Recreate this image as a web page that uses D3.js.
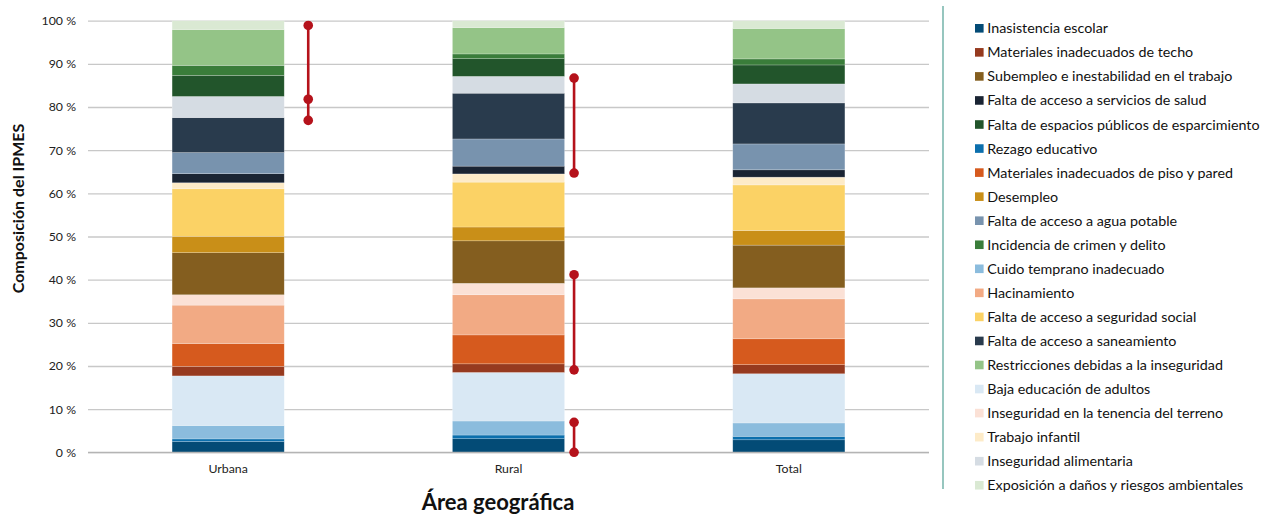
<!DOCTYPE html>
<html lang="es">
<head>
<meta charset="utf-8">
<script src="https://cdn.jsdelivr.net/npm/d3@7"></script>
<style>
  html, body { margin: 0; padding: 0; background: #fff; }
  svg { display: block; font-family: Lato, "Open Sans", sans-serif; }
</style>
</head>
<body>
<svg id="chart" width="1264" height="515"></svg>
<script>
// Geographic areas shown as stacked bars
const categories = ["Urbana", "Rural", "Total"];

// Indicators, stacked from the bottom of each bar upwards
const indicators = [
  "Inasistencia escolar",
  "Rezago educativo",
  "Cuido temprano inadecuado",
  "Baja educación de adultos",
  "Materiales inadecuados de techo",
  "Materiales inadecuados de piso y pared",
  "Hacinamiento",
  "Inseguridad en la tenencia del terreno",
  "Subempleo e inestabilidad en el trabajo",
  "Desempleo",
  "Falta de acceso a seguridad social",
  "Trabajo infantil",
  "Falta de acceso a servicios de salud",
  "Falta de acceso a agua potable",
  "Falta de acceso a saneamiento",
  "Inseguridad alimentaria",
  "Falta de espacios públicos de esparcimiento",
  "Incidencia de crimen y delito",
  "Restricciones debidas a la inseguridad",
  "Exposición a daños y riesgos ambientales"
];

// Share of each indicator in the IPMES (%), same order as indicators
const urbanaValues = [2.5, 0.6, 3.1, 11.5, 2.2, 5.3, 8.9, 2.4, 9.75, 3.8, 11.0, 1.4, 2.1, 4.9, 8.1, 4.9, 4.9, 2.3, 8.3, 2.05];
const ruralValues  = [3.15, 0.85, 3.25, 11.25, 2.0, 6.7, 9.3, 2.65, 9.85, 3.2, 10.4, 1.9, 1.8, 6.3, 10.6, 3.9, 4.1, 1.1, 6.1, 1.6];
const totalValues  = [2.9, 0.8, 3.1, 11.4, 2.1, 6.0, 9.25, 2.55, 9.9, 3.4, 10.55, 1.8, 1.7, 6.0, 9.5, 4.4, 4.4, 1.4, 7.05, 1.8];

// Fill colour of each indicator, same order as indicators
const indicatorColors = [
  "#034b76", "#0b6fad", "#8bbcdd", "#d9e8f4",
  "#963a1f", "#d65a1e", "#f2aa84", "#fbe1d6",
  "#845e1f", "#c98f18", "#fbd265", "#fdebc8",
  "#1a2433", "#7893ae", "#293b4d", "#d5dce3",
  "#22552b", "#3a7d3a", "#94c487", "#dae9d3"
];

// Legend listing order
const legendOrder = [
  "Inasistencia escolar",
  "Materiales inadecuados de techo",
  "Subempleo e inestabilidad en el trabajo",
  "Falta de acceso a servicios de salud",
  "Falta de espacios públicos de esparcimiento",
  "Rezago educativo",
  "Materiales inadecuados de piso y pared",
  "Desempleo",
  "Falta de acceso a agua potable",
  "Incidencia de crimen y delito",
  "Cuido temprano inadecuado",
  "Hacinamiento",
  "Falta de acceso a seguridad social",
  "Falta de acceso a saneamiento",
  "Restricciones debidas a la inseguridad",
  "Baja educación de adultos",
  "Inseguridad en la tenencia del terreno",
  "Trabajo infantil",
  "Inseguridad alimentaria",
  "Exposición a daños y riesgos ambientales"
];

// Y axis ticks (%)
const yTicks = [0, 10, 20, 30, 40, 50, 60, 70, 80, 90, 100];

// Highlighted ranges (% values) beside the bars
const rangeMarkers = [
  { area: "Urbana", points: [98.9, 81.8, 76.9] },
  { area: "Rural", points: [86.7, 64.7] },
  { area: "Rural", points: [41.15, 19.1] },
  { area: "Rural", points: [6.95, 0] }
];

const valuesByArea = { Urbana: urbanaValues, Rural: ruralValues, Total: totalValues };
const table = categories.map(c => {
  const row = { area: c };
  indicators.forEach((k, i) => { row[k] = valuesByArea[c][i]; });
  return row;
});
const colorOf = d3.scaleOrdinal().domain(indicators).range(indicatorColors);

const svg = d3.select("#chart");
const plot = { left: 88, right: 929, top: 20.7, bottom: 452.3 };

const x = d3.scaleBand()
  .domain(categories)
  .range([plot.left, plot.right])
  .paddingInner(0.6)
  .paddingOuter(0.3);

const y = d3.scaleLinear().domain([0, 100]).range([plot.bottom, plot.top]);

// Gridlines and tick labels
const yAxis = d3.axisLeft(y)
  .tickValues(yTicks)
  .tickSize(-(plot.right - plot.left))
  .tickPadding(12)
  .tickFormat(d => d + " %");
const gy = svg.append("g")
  .attr("transform", `translate(${plot.left},0)`)
  .call(yAxis);
gy.select(".domain").remove();
gy.selectAll(".tick line").attr("stroke", "#c8c8c8").attr("stroke-width", 1.3);
gy.selectAll(".tick text")
  .attr("fill", "#222")
  .style("font-size", "12.3px")
  .style("font-family", "Lato, sans-serif");

// Stacked bars
const stacked = d3.stack().keys(indicators)(table);
svg.append("g")
  .selectAll("g")
  .data(stacked)
  .join("g")
  .attr("fill", d => colorOf(d.key))
  .selectAll("rect")
  .data(d => d)
  .join("rect")
  .attr("x", d => x(d.data.area))
  .attr("width", x.bandwidth())
  .attr("y", d => y(d[1]))
  .attr("height", d => y(d[0]) - y(d[1]))
  .attr("stroke", "#ffffff")
  .attr("stroke-opacity", 0.35)
  .attr("stroke-width", 0.6);

// Baseline
svg.append("line")
  .attr("x1", plot.left).attr("x2", plot.right)
  .attr("y1", y(0)).attr("y2", y(0))
  .attr("stroke", "#b4b4b4").attr("stroke-width", 1.3);

// Category labels
const xAxis = d3.axisBottom(x).tickSize(0).tickPadding(12);
const gx = svg.append("g")
  .attr("transform", `translate(0,${y(0)})`)
  .call(xAxis);
gx.select(".domain").remove();
gx.selectAll(".tick text")
  .attr("fill", "#222")
  .style("font-size", "12.3px")
  .style("font-family", "Lato, sans-serif");

// Range markers beside the bars
const markerGap = { Urbana: 24, Rural: 9.5 };
const markerColor = "#b5121b";
const mg = svg.append("g");
rangeMarkers.forEach(m => {
  const mx = x(m.area) + x.bandwidth() + markerGap[m.area];
  const ext = d3.extent(m.points);
  mg.append("line")
    .attr("x1", mx).attr("x2", mx)
    .attr("y1", y(ext[1])).attr("y2", y(ext[0]))
    .attr("stroke", markerColor).attr("stroke-width", 2.6);
  mg.selectAll(null)
    .data(m.points)
    .join("circle")
    .attr("cx", mx)
    .attr("cy", d => y(d))
    .attr("r", 4.8)
    .attr("fill", markerColor);
});

// Axis titles
svg.append("text")
  .attr("transform", `translate(24,${(plot.top + plot.bottom) / 2 - 28}) rotate(-90)`)
  .attr("text-anchor", "middle")
  .style("font-size", "16px")
  .style("font-weight", "700")
  .attr("fill", "#111")
  .text("Composición del IPMES");

svg.append("text")
  .attr("x", 498)
  .attr("y", 510)
  .attr("text-anchor", "middle")
  .style("font-size", "22px")
  .style("font-weight", "700")
  .attr("fill", "#111")
  .text("Área geográfica");

// Divider between plot and legend
svg.append("line")
  .attr("x1", 943).attr("x2", 943)
  .attr("y1", 6).attr("y2", 489)
  .attr("stroke", "#5fa89c").attr("stroke-width", 1.3);

// Legend
const legend = svg.append("g").attr("transform", "translate(975,28.3)");
const item = legend.selectAll("g")
  .data(legendOrder)
  .join("g")
  .attr("transform", (d, i) => `translate(0,${i * 24.05})`);
item.append("rect")
  .attr("x", 0).attr("y", -4.3)
  .attr("width", 8.6).attr("height", 8.6)
  .attr("fill", d => colorOf(d));
item.append("text")
  .attr("x", 12.3)
  .attr("dy", "0.35em")
  .style("font-size", "14.3px")
  .attr("fill", "#111")
  .text(d => d);
</script>
</body>
</html>
